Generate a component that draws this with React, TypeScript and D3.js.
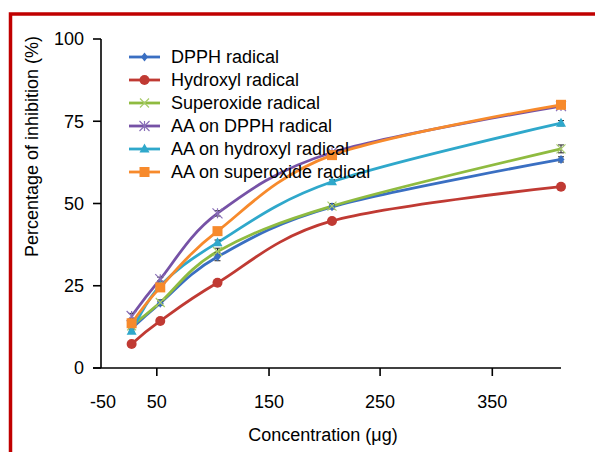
import React from "react";
import * as d3 from "d3";

const concentrations = [25, 50, 100, 200, 400];
const seriesNames = [
  "DPPH radical",
  "Hydroxyl radical",
  "Superoxide radical",
  "AA on DPPH radical",
  "AA on hydroxyl radical",
  "AA on superoxide radical",
];
const dpph = [12.0, 19.7, 33.8, 49.0, 63.4];
const hydroxyl = [7.3, 14.3, 25.9, 44.7, 55.1];
const superoxide = [12.8, 19.9, 35.4, 49.2, 66.6];
const aaDpph = [15.8, 27.0, 47.0, 65.5, 79.6];
const aaHydroxyl = [11.2, 25.0, 38.1, 56.6, 74.4];
const aaSuperoxide = [13.6, 24.5, 41.6, 64.7, 80.0];
const errDpph = [0.8, 0.6, 1.2, 0.6, 0.8];
const errHydroxyl = [0.5, 0.6, 0.8, 0.8, 0.6];
const errSuperoxide = [0.8, 0.8, 1.0, 0.8, 1.2];
const errAaDpph = [0.8, 0.6, 0.8, 0.6, 0.6];
const errAaHydroxyl = [0.6, 0.6, 0.8, 0.6, 0.8];
const errAaSuperoxide = [0.6, 0.6, 0.6, 0.6, 0.6];
const yTicks = [0, 25, 50, 75, 100];
const xTickPositions = [47, 145, 242, 340];
const xTickLabels = ["50", "150", "250", "350"];
const xFirstLabel = "-50";

const colors = ["#3a6fc2", "#c03a33", "#8fbb40", "#7652a6", "#2fa8cb", "#f78a2c"];
const markers = ["diamond", "circle", "x", "star", "triangle", "square"];
const values = [dpph, hydroxyl, superoxide, aaDpph, aaHydroxyl, aaSuperoxide];
const errors = [errDpph, errHydroxyl, errSuperoxide, errAaDpph, errAaHydroxyl, errAaSuperoxide];

const FONT = "'Liberation Sans', Arial, sans-serif";

function Marker({ kind, x, y, color }: { kind: string; x: number; y: number; color: string }) {
  switch (kind) {
    case "diamond":
      return <path d={`M${x},${y - 4.5}L${x + 3.5},${y}L${x},${y + 4.5}L${x - 3.5},${y}Z`} fill={color} />;
    case "circle":
      return <circle cx={x} cy={y} r={5} fill={color} />;
    case "x":
      return (
        <path
          d={`M${x - 4.5},${y - 4.5}L${x + 4.5},${y + 4.5}M${x - 4.5},${y + 4.5}L${x + 4.5},${y - 4.5}`}
          stroke="#a8cc6a"
          strokeWidth={1.2}
          fill="none"
        />
      );
    case "star":
      return (
        <path
          d={`M${x - 5},${y - 5}L${x + 5},${y + 5}M${x - 5},${y + 5}L${x + 5},${y - 5}M${x},${y - 5}L${x},${y + 5}`}
          stroke="#8a70b8"
          strokeWidth={1.2}
          fill="none"
        />
      );
    case "triangle":
      return <path d={`M${x},${y - 5.5}L${x + 5},${y + 3.5}L${x - 5},${y + 3.5}Z`} fill={color} />;
    case "square":
      return <rect x={x - 5} y={y - 5} width={10} height={10} fill={color} />;
  }
  return null;
}

export default function App() {
  const x = d3.scaleLinear().domain([0, 400]).range([103, 561]);
  const y = d3.scaleLinear().domain([0, 100]).range([368, 39]);
  const line = d3
    .line<number>()
    .x((_, i) => x(concentrations[i]))
    .y((d) => y(d))
    .curve(d3.curveCardinal.tension(0));

  const axisLeft = 101;
  const axisBottom = y(0);

  return (
    <svg
      width={595}
      height={452}
      style={{ position: "absolute", left: 0, top: 0, background: "#fff" }}
      fontFamily={FONT}
    >
      <rect x={0} y={0} width={595} height={452} fill="#fff" />
      <rect x={10.5} y={14} width={620} height={480} fill="none" stroke="#c00000" strokeWidth={3.5} />

      {/* y axis */}
      <line x1={axisLeft} x2={axisLeft} y1={y(100)} y2={axisBottom} stroke="#000" strokeWidth={1.6} />
      {yTicks.map((t) => (
        <g key={t}>
          <line x1={93} x2={axisLeft} y1={y(t)} y2={y(t)} stroke="#000" strokeWidth={1.6} />
          <text x={84} y={y(t)} dy="0.35em" textAnchor="end" fontSize={18}>
            {t}
          </text>
        </g>
      ))}
      {/* x axis */}
      <line x1={93} x2={x(400)} y1={axisBottom} y2={axisBottom} stroke="#000" strokeWidth={1.6} />
      {xTickPositions.map((p, i) => (
        <g key={p}>
          <line x1={x(p)} x2={x(p)} y1={axisBottom} y2={axisBottom + 8} stroke="#000" strokeWidth={1.6} />
          <text x={x(p)} y={408} textAnchor="middle" fontSize={18}>
            {xTickLabels[i]}
          </text>
        </g>
      ))}
      <text x={x(0)} y={408} textAnchor="middle" fontSize={18}>
        {xFirstLabel}
      </text>
      <text x={323} y={441} textAnchor="middle" fontSize={18}>
        Concentration (μg)
      </text>
      <text
        transform={`translate(38,${(33 + 260) / 2}) rotate(-90)`}
        textAnchor="middle"
        fontSize={18}
      >
        Percentage of inhibition (%)
      </text>

      {/* series lines */}
      {values.map((vals, si) => (
        <path key={si} d={line(vals) || ""} fill="none" stroke={colors[si]} strokeWidth={2.8} />
      ))}
      {/* error bars */}
      {values.map((vals, si) =>
        vals.map((v, i) => {
          const cx = x(concentrations[i]);
          const e = errors[si][i];
          return (
            <path
              key={`e${si}-${i}`}
              d={`M${cx},${y(v + e)}L${cx},${y(v - e)}M${cx - 3},${y(v + e)}L${cx + 3},${y(v + e)}M${cx - 3},${y(v - e)}L${cx + 3},${y(v - e)}`}
              stroke="#222"
              strokeWidth={1}
              fill="none"
            />
          );
        })
      )}
      {/* markers */}
      {values.map((vals, si) =>
        vals.map((v, i) => (
          <Marker key={`m${si}-${i}`} kind={markers[si]} x={x(concentrations[i])} y={y(v)} color={colors[si]} />
        ))
      )}

      {/* legend */}
      {seriesNames.map((name, i) => {
        const ly = 57 + i * 23;
        return (
          <g key={name}>
            <line x1={129} x2={160} y1={ly} y2={ly} stroke={colors[i]} strokeWidth={2.8} />
            <Marker kind={markers[i]} x={144.5} y={ly} color={colors[i]} />
            <text x={171} y={ly} dy="0.35em" fontSize={18}>
              {name}
            </text>
          </g>
        );
      })}
    </svg>
  );
}
